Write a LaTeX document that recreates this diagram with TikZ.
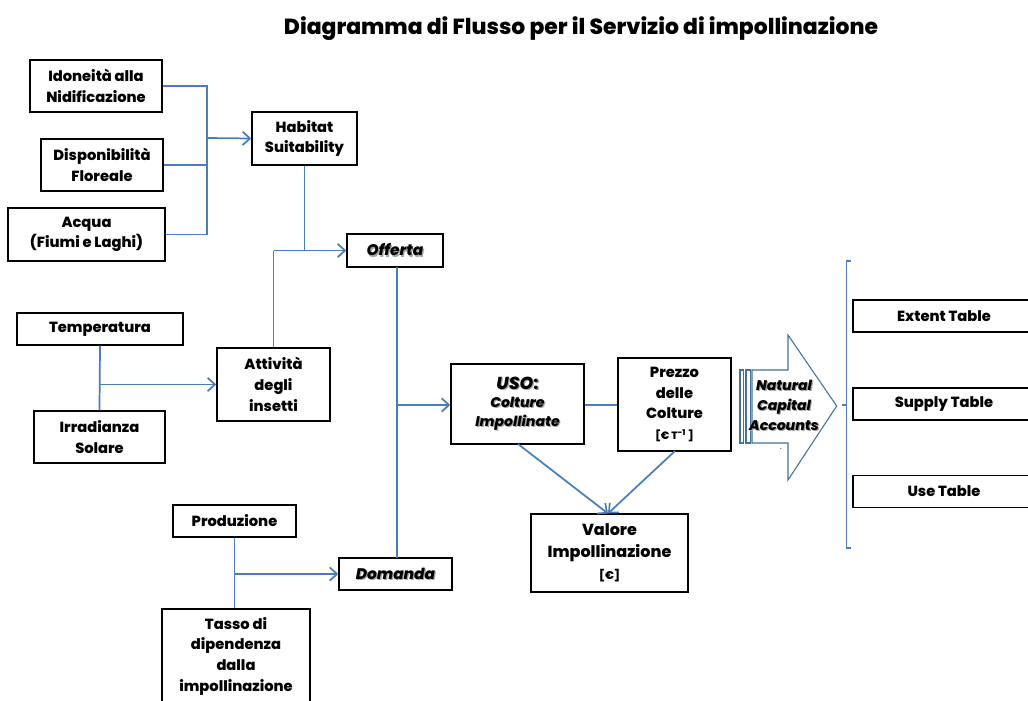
\documentclass[tikz,border=0pt]{standalone}
\usepackage{fontspec}
\setmainfont{Poppins}[BoldFont={Poppins ExtraBold}, BoldItalicFont={Poppins ExtraBold Italic}]
\usetikzlibrary{arrows.meta}
\definecolor{conn}{HTML}{4A7EBB}
\definecolor{arrowblue}{HTML}{41719C}
\newcommand\shd[1]{\leavevmode\rlap{\kern0.9pt\raisebox{-0.9pt}{\textcolor{black!35}{#1}}}#1}
\tikzset{
  bx/.style 2 args={draw=black, line width=1.1pt, fill=white, align=center, inner sep=0pt,
     minimum width=#1*0.75pt, minimum height=#2*0.75pt, font=\fontsize{11}{15.5}\selectfont\bfseries},
  link/.style={draw=conn, line width=1.3pt},
  arr/.style={link, -{Straight Barb[length=5.5pt,width=10pt,line width=1.3pt]}},
}
\begin{document}
\begin{tikzpicture}[x=0.75pt,y=-0.75pt]
\useasboundingbox (0,0) rectangle (1028,700);
\clip (0,0) rectangle (1028,700);
% title
\node[font=\fontsize{16.4}{20}\selectfont\bfseries] (title) at (581,29) {Diagramma di Flusso per il Servizio di impollinazione};
% boxes
\node[bx={132}{52}] (ido) at (96,86) {Idoneità alla\\Nidificazione};
\node[bx={122}{52}] (disp) at (102,165) {Disponibilità\\Floreale};
\node[bx={157}{53}] (acq) at (86.5,234.5) {Acqua\\(Fiumi e Laghi)};
\node[bx={105}{53}] (hab) at (304.5,138.5) {Habitat\\Suitability};
\node[bx={96}{33}, font=\fontsize{11.5}{15}\selectfont\bfseries] (off) at (395,250.5) {\itshape\shd{Offerta}};
\node[bx={166}{32}] (temp) at (100,329) {Temperatura};
\node[bx={131}{52}] (irr) at (99.5,437) {Irradianza\\Solare};
\node[bx={113}{73}] (att) at (273.5,384.5) {Attività\\degli\\insetti};
\node[bx={133}{80}] (uso) at (517.5,404) {{\fontsize{13}{15}\selectfont\shd{\itshape USO\upshape:}}\\[-2pt]
  {\fontsize{10.5}{13.5}\selectfont\itshape\shd{Colture}}\\[-1pt]{\fontsize{10.5}{13.5}\selectfont\itshape\shd{Impollinate}}};
\node[bx={113}{93}, font=\fontsize{11}{15.5}\selectfont\bfseries] (prez) at (674.5,404.5) {Prezzo\\delle\\Colture\\{\fontsize{8}{10}\selectfont [€ T\textsuperscript{-1} ]}};
\node[bx={157}{78}, font=\fontsize{12}{16.5}\selectfont\bfseries] (val) at (609.5,553) {Valore\\Impollinazione\\{\fontsize{8.5}{10}\selectfont [€]}};
\node[bx={123}{32}] (prod) at (234.5,521) {Produzione};
\node[bx={148}{94}] (tasso) at (236,656) {Tasso di\\dipendenza\\dalla\\impollinazione};
\node[bx={113}{32}, font=\fontsize{11.5}{15}\selectfont\bfseries] (dom) at (395.5,574) {\itshape\shd{Domanda}};
\node[bx={182}{32}] (ext) at (944,316) {Extent Table};
\node[bx={182}{32}] (sup) at (944,404) {Supply Table};
\node[bx={182}{32}] (use) at (944,491.5) {Use Table};
% striped arrow
\draw[arrowblue, line width=0.8pt, fill=white] (740,370) rectangle (743.3,443);
\draw[arrowblue, line width=0.8pt, fill=white] (746,370) rectangle (750.5,443);
\draw[arrowblue, line width=0.8pt, fill=white] (752,370) -- (788,370) -- (788,335) -- (836.7,406) -- (788,480) -- (788,443) -- (752,443) -- cycle;
\node[align=center, font=\fontsize{10.5}{15}\selectfont\bfseries\itshape] (nca) at (784,406) {\shd{Natural}\\\shd{Capital}\\\shd{Accounts}};
\node[font=\fontsize{6}{6}\selectfont, inner sep=0pt] (dot) at (781,449) {.};
% brace
\coordinate (bt) at (846.5,261);
\coordinate (bb) at (846.5,548);
\draw[link, line width=1pt] (850.7,261) -- (bt) -- (bb) -- (850.7,548);
\draw[link, line width=1pt] (846.5,405) -- (842,405);
% connectors
\coordinate (j1) at (207,138);
\draw[link] (ido.east) -- (207,86) -- (207,234.5) -- (acq.east);
\draw[link] (disp.east) -- (207,165);
\draw[arr] (j1) -- (hab.west);
\draw[link] (hab.south) -- (304.5,250.5);
\draw[arr] (273.5,250.5) -- (off.west);
\draw[link] (att.north) -- (273.5,250.5);
\draw[link] (temp.south) -- (irr.north);
\draw[arr] (100,384.5) -- (att.west);
\draw[link] (397,267) -- (397,558);
\draw[arr] (397,405) -- (uso.west|-397,405);
\draw[link] (uso.east|-0,405) -- (prez.west|-0,405);
\draw[arr] (518,444) -- (608,513.5);
\draw[arr] (675,451) -- (608,513.5);
\draw[link] (prod.south) -- (tasso.north-|prod.south);
\draw[arr] (234.5,574) -- (dom.west);
\end{tikzpicture}
\end{document}
